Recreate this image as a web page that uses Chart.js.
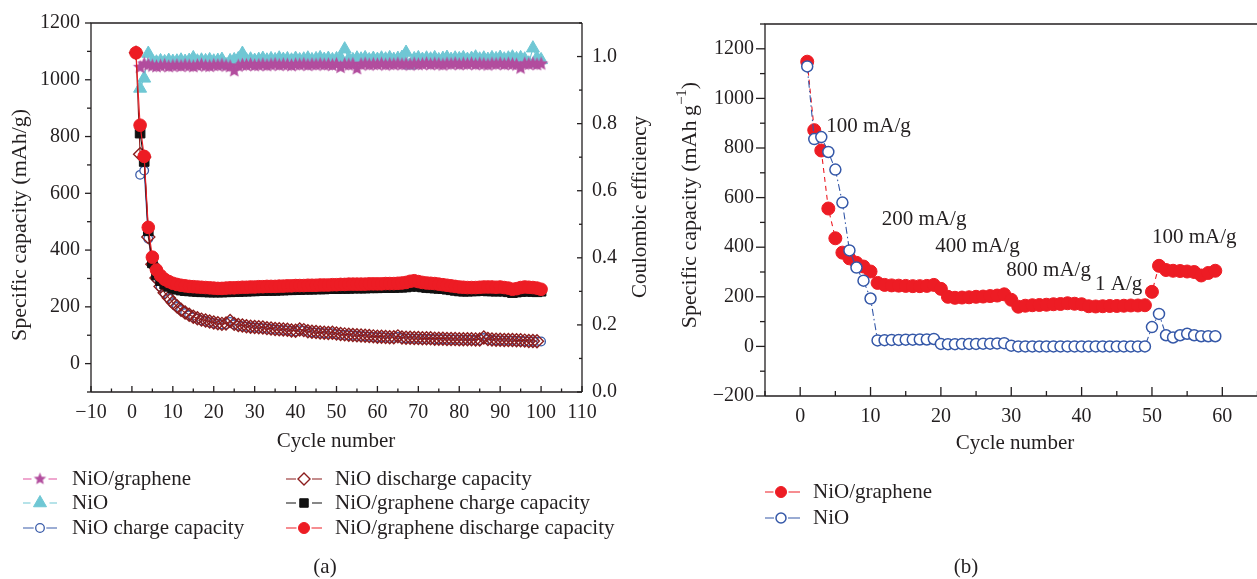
<!DOCTYPE html>
<html>
<head>
<meta charset="utf-8">
<script src="https://cdn.jsdelivr.net/npm/chart.js@4.4.1/dist/chart.umd.min.js"></script>
<style>
  html, body { margin: 0; padding: 0; background: #fff; overflow: hidden; }
  body { width: 1257px; height: 579px; position: relative; }
  canvas { position: absolute; top: 0; }
  #chartA { left: 0; }
  #chartB { left: 670px; }
</style>
</head>
<body>
<canvas id="chartA" width="670" height="579"></canvas>
<canvas id="chartB" width="595" height="579"></canvas>
<script>
const FONT = '"Liberation Serif", "Times New Roman", serif'
const INK = '#231f20'

// ---- panel (a): cycling, 100 cycles ----
const cyclesA = Array.from({ length: 100 }, (_, i) => i + 1)

const grapheneCE = [null, 0.968, 0.978, 0.975, 0.972, 0.970, 0.972, 0.974, 0.970, 0.972,
  0.973, 0.971, 0.974, 0.972, 0.970, 0.973, 0.975, 0.972, 0.971, 0.974,
  0.973, 0.975, 0.972, 0.970, 0.958, 0.972, 0.975, 0.974, 0.976, 0.973,
  0.974, 0.976, 0.973, 0.975, 0.977, 0.974, 0.976, 0.975, 0.973, 0.976,
  0.975, 0.977, 0.974, 0.976, 0.975, 0.977, 0.975, 0.976, 0.974, 0.977,
  0.968, 0.976, 0.975, 0.977, 0.964, 0.976, 0.978, 0.975, 0.977, 0.976,
  0.978, 0.975, 0.977, 0.976, 0.978, 0.976, 0.977, 0.975, 0.978, 0.976,
  0.977, 0.979, 0.976, 0.978, 0.977, 0.975, 0.978, 0.977, 0.979, 0.976,
  0.978, 0.977, 0.979, 0.976, 0.978, 0.977, 0.975, 0.978, 0.977, 0.979,
  0.976, 0.978, 0.977, 0.975, 0.966, 0.978, 0.977, 0.979, 0.976, 0.978]

const nioCE = [null, 0.905, 0.935, 1.009, 0.985, 0.983, 0.987, 0.984, 0.988, 0.985,
  0.986, 0.989, 0.985, 0.988, 0.996, 0.986, 0.989, 0.987, 0.990, 0.986,
  0.988, 0.991, 0.975, 0.987, 0.990, 0.993, 1.009, 0.989, 0.992, 0.988,
  0.991, 0.994, 0.989, 0.993, 0.990, 0.995, 0.991, 0.993, 0.989, 0.994,
  0.990, 0.992, 0.995, 0.990, 0.993, 0.996, 0.991, 0.994, 0.990, 0.993,
  0.996, 1.022, 0.993, 0.990, 0.995, 0.992, 0.996, 0.990, 0.994, 0.991,
  0.995, 0.992, 0.996, 0.991, 0.994, 0.997, 1.012, 0.974, 0.993, 0.996,
  0.991, 0.995, 0.992, 0.996, 0.990, 0.994, 0.997, 0.991, 0.995, 0.993,
  0.996, 0.991, 0.994, 0.998, 0.992, 0.995, 0.991, 0.996, 0.993, 0.997,
  0.992, 0.995, 0.998, 0.993, 0.996, 0.992, 0.980, 1.025, 0.996, 0.990]

const nioCharge = [null, 665, 680, 440, 352, 300, 270, 248, 230, 213,
  200, 188, 178, 170, 163, 158, 153, 150, 146, 143,
  140, 138, 139, 147, 138, 134, 132, 130, 128, 127,
  126, 125, 123, 122, 120, 119, 118, 117, 115, 114,
  118, 116, 112, 110, 109, 108, 107, 106, 107, 104,
  102, 101, 100, 99, 98, 97, 96, 95, 94, 93,
  93, 92, 91, 91, 94, 90, 89, 89, 88, 88,
  87, 87, 87, 86, 86, 86, 85, 85, 85, 84,
  84, 84, 84, 83, 83, 90, 85, 83, 82, 82,
  81, 81, 81, 80, 80, 79, 78, 78, 77, 78]

const nioDischarge = [1095, 738, 728, 446, 350, 302, 272, 250, 232, 215,
  202, 190, 180, 172, 165, 160, 155, 152, 148, 145,
  142, 140, 141, 150, 140, 136, 134, 132, 130, 129,
  128, 127, 125, 124, 122, 121, 120, 119, 117, 116,
  120, 118, 114, 112, 111, 110, 109, 108, 109, 106,
  104, 103, 102, 101, 100, 99, 98, 97, 96, 95,
  95, 94, 93, 93, 96, 92, 91, 91, 90, 90,
  89, 89, 89, 88, 88, 88, 87, 87, 87, 86,
  86, 86, 86, 85, 85, 92, 87, 85, 84, 84,
  83, 83, 83, 82, 82, 81, 80, 80, 79, null]

const grapheneCharge = [null, 812, 712, 468, 355, 312, 292, 280, 272, 266,
  262, 259, 257, 256, 255, 254, 253, 253, 252, 252,
  252, 252, 253, 253, 254, 254, 255, 255, 256, 256,
  257, 257, 258, 258, 258, 259, 259, 260, 260, 261,
  261, 262, 262, 262, 263, 263, 263, 264, 264, 264,
  265, 265, 265, 266, 266, 266, 266, 267, 267, 267,
  268, 268, 268, 268, 269, 269, 270, 272, 274, 272,
  270, 268, 267, 266, 265, 264, 262, 260, 258, 256,
  255, 255, 256, 256, 257, 257, 256, 256, 255, 256,
  255, 253, 250, 252, 254, 255, 255, 254, 253, 255]

const grapheneDischarge = [1095, 840, 730, 480, 375, 330, 310, 297, 289, 283,
  279, 276, 274, 272, 271, 270, 269, 268, 267, 266,
  265, 265, 266, 267, 267, 268, 269, 269, 270, 270,
  271, 271, 272, 272, 272, 273, 273, 274, 274, 275,
  275, 275, 276, 276, 276, 277, 277, 277, 278, 278,
  279, 279, 280, 280, 280, 280, 280, 281, 281, 281,
  281, 282, 282, 282, 283, 284, 286, 290, 292, 289,
  286, 284, 283, 282, 280, 278, 276, 274, 272, 270,
  269, 268, 268, 268, 269, 270, 270, 270, 269, 270,
  268, 266, 262, 264, 268, 270, 269, 268, 266, 262]

const xTicksA = [-10, 0, 10, 20, 30, 40, 50, 60, 70, 80, 90, 100, 110]
const yTicksA = [0, 200, 400, 600, 800, 1000, 1200]
const ceTicksA = [0, 0.2, 0.4, 0.6, 0.8, 1.0]

// ---- panel (b): rate test, 59 cycles ----
const cyclesB = Array.from({ length: 59 }, (_, i) => i + 1)

const grapheneRate = [1148, 872, 790, 556, 436, 378, 355, 337, 322, 302,
  256, 248, 246, 245, 244, 243, 243, 244, 248, 232,
  200, 196, 197, 198, 200, 201, 203, 205, 210, 188,
  160, 164, 166, 167, 168, 170, 171, 174, 172, 170,
  162, 161, 162, 163, 163, 164, 165, 165, 166, 220,
  325, 308, 305, 304, 302, 300, 286, 296, 305]

const nioRate = [1129, 836, 844, 784, 713, 580, 387, 318, 265, 193,
  24, 25, 26, 26, 27, 27, 28, 28, 30, 10,
  9, 9, 10, 10, 10, 11, 11, 12, 13, 3,
  0, 0, 0, 0, 0, 0, 0, 0, 0, 0,
  0, 0, 0, 0, 0, 0, 0, 0, 0, 78,
  131, 45, 36, 45, 51, 45, 41, 41, 41]

const rateLabels = ['100 mA/g', '200 mA/g', '400 mA/g', '800 mA/g', '1 A/g', '100 mA/g']

const xTicksB = [0, 10, 20, 30, 40, 50, 60]
const yTicksB = [-200, 0, 200, 400, 600, 800, 1000, 1200]

// ---------------------------------------------------------------

function starImage(color, r) {
  const c = document.createElement('canvas')
  const s = Math.ceil(r * 2 + 2)
  c.width = s
  c.height = s
  const g = c.getContext('2d')
  g.fillStyle = color
  g.beginPath()
  for (let i = 0; i < 10; i++) {
    const rad = i % 2 === 0 ? r : r * 0.45
    const ang = -Math.PI / 2 + i * Math.PI / 5
    g.lineTo(s / 2 + rad * Math.cos(ang), s / 2 + rad * Math.sin(ang))
  }
  g.closePath()
  g.fill()
  return c
}

const toPoints = (values, cycles) =>
  values.map((v, i) => (v === null ? null : { x: cycles[i], y: v })).filter(Boolean)

const minus = v => String(v).replace('-', '\u2212')

function drawMarker(ctx, m, x, y) {
  ctx.save()
  ctx.fillStyle = m.fill
  ctx.strokeStyle = m.color
  ctx.lineWidth = m.bw
  const r = m.r
  if (m.style === 'star') {
    ctx.drawImage(m.img, x - m.img.width / 2, y - m.img.height / 2)
    ctx.restore()
    return
  }
  ctx.beginPath()
  if (m.style === 'circle') ctx.arc(x, y, r, 0, Math.PI * 2)
  if (m.style === 'triangle') {
    for (let i = 0; i < 3; i++) {
      const a = i * 2 * Math.PI / 3
      ctx.lineTo(x + Math.sin(a) * r, y - Math.cos(a) * r)
    }
    ctx.closePath()
  }
  if (m.style === 'rectRot') {
    ctx.moveTo(x - r, y); ctx.lineTo(x, y - r); ctx.lineTo(x + r, y); ctx.lineTo(x, y + r)
    ctx.closePath()
  }
  if (m.style === 'rect') {
    const h = r * Math.SQRT1_2
    ctx.rect(x - h, y - h, h * 2, h * 2)
  }
  ctx.fill()
  if (m.bw) ctx.stroke()
  ctx.restore()
}

// frame, inward/outward ticks, titles, legend, notes
const decor = {
  id: 'decor',
  afterDraw(chart, args, o) {
    const ctx = chart.ctx
    const a = chart.chartArea
    const right = o.frameRight ? a.right : chart.width
    ctx.save()
    ctx.strokeStyle = INK
    ctx.lineWidth = 1.3
    ctx.beginPath()
    ctx.moveTo(a.left, a.bottom); ctx.lineTo(a.left, a.top); ctx.lineTo(right, a.top)
    ctx.moveTo(a.left, a.bottom); ctx.lineTo(right, a.bottom)
    if (o.frameRight) { ctx.moveTo(a.right, a.top); ctx.lineTo(a.right, a.bottom) }
    ctx.stroke()

    o.ticks.forEach(t => {
      const s = chart.scales[t.id]
      const step = t.values[1] - t.values[0]
      const minor = [t.values[0] - step / 2].concat(t.values.map(v => v + step / 2))
      const mark = (v, len) => {
        if (v < s.min - 1e-9 || v > s.max + 1e-9) return
        const p = s.getPixelForValue(v)
        ctx.beginPath()
        if (t.side === 'bottom') { ctx.moveTo(p, a.bottom); ctx.lineTo(p, a.bottom - len) }
        if (t.side === 'left') { ctx.moveTo(a.left, p); ctx.lineTo(a.left - len, p) }
        if (t.side === 'right') { ctx.moveTo(a.right, p); ctx.lineTo(a.right - len, p) }
        ctx.stroke()
      }
      t.values.forEach(v => mark(v, t.major))
      minor.forEach(v => mark(v, t.minor))
    })

    ctx.fillStyle = INK
    ctx.textBaseline = 'middle'
    o.titles.forEach(t => {
      const size = t.size || 21
      ctx.save()
      ctx.translate(t.x, t.y)
      if (t.rot) ctx.rotate(-Math.PI / 2)
      const parts = t.parts || [{ text: t.text }]
      let total = 0
      parts.forEach(p => {
        ctx.font = (p.sup ? 15 : size) + 'px ' + FONT
        total += ctx.measureText(p.text).width
      })
      let cx = -total / 2
      ctx.textAlign = 'left'
      parts.forEach(p => {
        ctx.font = (p.sup ? 15 : size) + 'px ' + FONT
        ctx.fillText(p.text, cx, p.sup ? -8 : 0)
        cx += ctx.measureText(p.text).width
      })
      ctx.restore()
    })

    ctx.font = '21px ' + FONT
    ctx.textAlign = 'left'
    ;(o.notes || []).forEach(n => {
      ctx.fillText(n.text, chart.scales.x.getPixelForValue(n.x), chart.scales.y.getPixelForValue(n.y))
    })

    o.legend.forEach(item => {
      const m = item.marker
      ctx.save()
      ctx.strokeStyle = item.line
      ctx.lineWidth = 1.2
      ctx.beginPath()
      ctx.moveTo(item.x0, item.y); ctx.lineTo(item.mx - m.r - 2, item.y)
      ctx.moveTo(item.mx + m.r + 2, item.y); ctx.lineTo(item.x1, item.y)
      ctx.stroke()
      ctx.restore()
      drawMarker(ctx, m, item.mx, item.y)
      ctx.fillText(item.label, item.tx, item.y)
    })
    ctx.restore()
  }
}

function axisOpts(extra, padding) {
  return Object.assign({
    grid: { display: false, drawTicks: false },
    border: { display: false },
    ticks: { font: { family: FONT, size: 20 }, color: INK, padding: padding, maxRotation: 0, callback: minus }
  }, extra)
}

// ---- chart (a) ----
const starImg = starImage('#b24d9e', 7.5)
const legendStar = starImage('#b24d9e', 6.5)

const styleA = {
  red: { style: 'circle', r: 6.3, color: '#ed1c24', fill: '#ed1c24', bw: 1 },
  black: { style: 'rect', r: 6.8, color: '#111111', fill: '#111111', bw: 1 },
  diamond: { style: 'rectRot', r: 6.5, color: '#8c1d1d', fill: 'rgba(255,255,255,0)', bw: 1.4 },
  blue: { style: 'circle', r: 4.3, color: '#3a5ca9', fill: '#ffffff', bw: 1.3 },
  star: { style: 'star', r: 6.5, color: '#b24d9e', fill: '#b24d9e', bw: 0, img: legendStar },
  tri: { style: 'triangle', r: 7.5, color: '#6fc7d4', fill: '#6fc7d4', bw: 1 }
}

function lineSet(values, cycles, st, extra) {
  return Object.assign({
    data: toPoints(values, cycles),
    borderColor: st.color,
    borderWidth: 1.1,
    pointStyle: st.style === 'star' ? starImg : st.style,
    pointRadius: st.r,
    pointBackgroundColor: st.fill,
    pointBorderColor: st.color,
    pointBorderWidth: st.bw,
    tension: 0,
    fill: false
  }, extra)
}

new Chart(document.getElementById('chartA'), {
  type: 'line',
  data: {
    datasets: [
      lineSet(grapheneDischarge, cyclesA, styleA.red, { label: 'NiO/graphene discharge capacity' }),
      lineSet(grapheneCharge, cyclesA, styleA.black, { label: 'NiO/graphene charge capacity' }),
      lineSet(nioDischarge, cyclesA, styleA.diamond, { label: 'NiO discharge capacity' }),
      lineSet(nioCharge, cyclesA, styleA.blue, { label: 'NiO charge capacity' }),
      lineSet(grapheneCE, cyclesA, styleA.star, { label: 'NiO/graphene', yAxisID: 'y2', borderColor: '#d04fa0' }),
      lineSet(nioCE, cyclesA, styleA.tri, { label: 'NiO', yAxisID: 'y2' })
    ]
  },
  options: {
    responsive: false,
    animation: false,
    devicePixelRatio: 1,
    layout: { padding: { left: 0, right: 0, top: 23, bottom: 147 } },
    plugins: {
      legend: { display: false },
      tooltip: { enabled: false },
      decor: {
        frameRight: true,
        ticks: [
          { id: 'x', side: 'bottom', values: xTicksA, major: 6, minor: 3.5 },
          { id: 'y', side: 'left', values: yTicksA, major: 6, minor: 4 },
          { id: 'y2', side: 'right', values: ceTicksA, major: 5, minor: 3 }
        ],
        titles: [
          { text: 'Specific capacity (mAh/g)', x: 20, y: 225, rot: true, size: 22 },
          { text: 'Coulombic efficiency', x: 640, y: 207, rot: true },
          { text: 'Cycle number', x: 336, y: 441 },
          { text: '(a)', x: 325, y: 567 }
        ],
        legend: [
          { label: 'NiO/graphene', marker: styleA.star, line: '#e0509f', x0: 23, x1: 57, mx: 40, tx: 72, y: 479 },
          { label: 'NiO', marker: styleA.tri, line: '#6fc7d4', x0: 23, x1: 57, mx: 40, tx: 72, y: 503 },
          { label: 'NiO charge capacity', marker: styleA.blue, line: '#3a5ca9', x0: 23, x1: 57, mx: 40, tx: 72, y: 528 },
          { label: 'NiO discharge capacity', marker: Object.assign({}, styleA.diamond, { fill: '#fff', r: 6 }), line: '#8c1d1d', x0: 286, x1: 322, mx: 304, tx: 335, y: 479 },
          { label: 'NiO/graphene charge capacity', marker: Object.assign({}, styleA.black, { r: 6 }), line: '#111111', x0: 286, x1: 322, mx: 304, tx: 335, y: 503 },
          { label: 'NiO/graphene discharge capacity', marker: Object.assign({}, styleA.red, { r: 5.5 }), line: '#ed1c24', x0: 286, x1: 322, mx: 304, tx: 335, y: 528 }
        ]
      }
    },
    scales: {
      x: axisOpts({
        type: 'linear', min: -10, max: 110,
        afterBuildTicks: s => { s.ticks = xTicksA.map(v => ({ value: v })) },
        afterFit: s => { s.height = 40 }
      }, 9),
      y: axisOpts({
        position: 'left', min: -100, max: 1200,
        afterBuildTicks: s => { s.ticks = yTicksA.map(v => ({ value: v })) },
        afterFit: s => { s.width = 91 }
      }, 11),
      y2: axisOpts({
        position: 'right', min: 0, max: 1.1,
        ticks: { font: { family: FONT, size: 20 }, color: INK, padding: 10, callback: v => v.toFixed(1) },
        afterBuildTicks: s => { s.ticks = ceTicksA.map(v => ({ value: v })) },
        afterFit: s => { s.width = 88 }
      })
    }
  },
  plugins: [decor]
})

// ---- chart (b) ----
const styleB = {
  red: { style: 'circle', r: 6.5, color: '#ed1c24', fill: '#ed1c24', bw: 1 },
  blue: { style: 'circle', r: 5.5, color: '#3558a8', fill: '#ffffff', bw: 1.5 }
}

new Chart(document.getElementById('chartB'), {
  type: 'line',
  data: {
    datasets: [
      lineSet(nioRate, cyclesB, styleB.blue, { label: 'NiO', borderDash: [7, 3, 1.5, 3], borderWidth: 1.1 }),
      lineSet(grapheneRate, cyclesB, styleB.red, { label: 'NiO/graphene', borderDash: [5, 4], borderWidth: 1.1 })
    ]
  },
  options: {
    responsive: false,
    animation: false,
    devicePixelRatio: 1,
    layout: { padding: { left: 0, right: 1, top: 24, bottom: 143 } },
    plugins: {
      legend: { display: false },
      tooltip: { enabled: false },
      decor: {
        frameRight: false,
        ticks: [
          { id: 'x', side: 'bottom', values: xTicksB, major: 9, minor: 5 },
          { id: 'y', side: 'left', values: yTicksB, major: 9, minor: 5 }
        ],
        titles: [
          { parts: [{ text: 'Specific capacity (mAh\u2009g' }, { text: '\u22121', sup: true }, { text: ')' }], x: 20, y: 205, rot: true, size: 22 },
          { text: 'Cycle number', x: 345, y: 443 },
          { text: '(b)', x: 296, y: 567 }
        ],
        notes: [
          { text: rateLabels[0], x: 3.7, y: 887 },
          { text: rateLabels[1], x: 11.6, y: 511 },
          { text: rateLabels[2], x: 19.2, y: 404 },
          { text: rateLabels[3], x: 29.3, y: 307 },
          { text: rateLabels[4], x: 41.9, y: 250 },
          { text: rateLabels[5], x: 50, y: 438 }
        ],
        legend: [
          { label: 'NiO/graphene', marker: Object.assign({}, styleB.red, { r: 5.5 }), line: '#ed1c24', x0: 95, x1: 130, mx: 111, tx: 143, y: 492 },
          { label: 'NiO', marker: Object.assign({}, styleB.blue, { r: 5 }), line: '#3558a8', x0: 95, x1: 130, mx: 111, tx: 143, y: 518 }
        ]
      }
    },
    scales: {
      x: axisOpts({
        type: 'linear', min: -5, max: 65,
        afterBuildTicks: s => { s.ticks = xTicksB.map(v => ({ value: v })) },
        afterFit: s => { s.height = 40 }
      }, 9),
      y: axisOpts({
        position: 'left', min: -200, max: 1300,
        afterBuildTicks: s => { s.ticks = yTicksB.map(v => ({ value: v })) },
        afterFit: s => { s.width = 95 }
      }, 11)
    }
  },
  plugins: [decor]
})
</script>
</body>
</html>
